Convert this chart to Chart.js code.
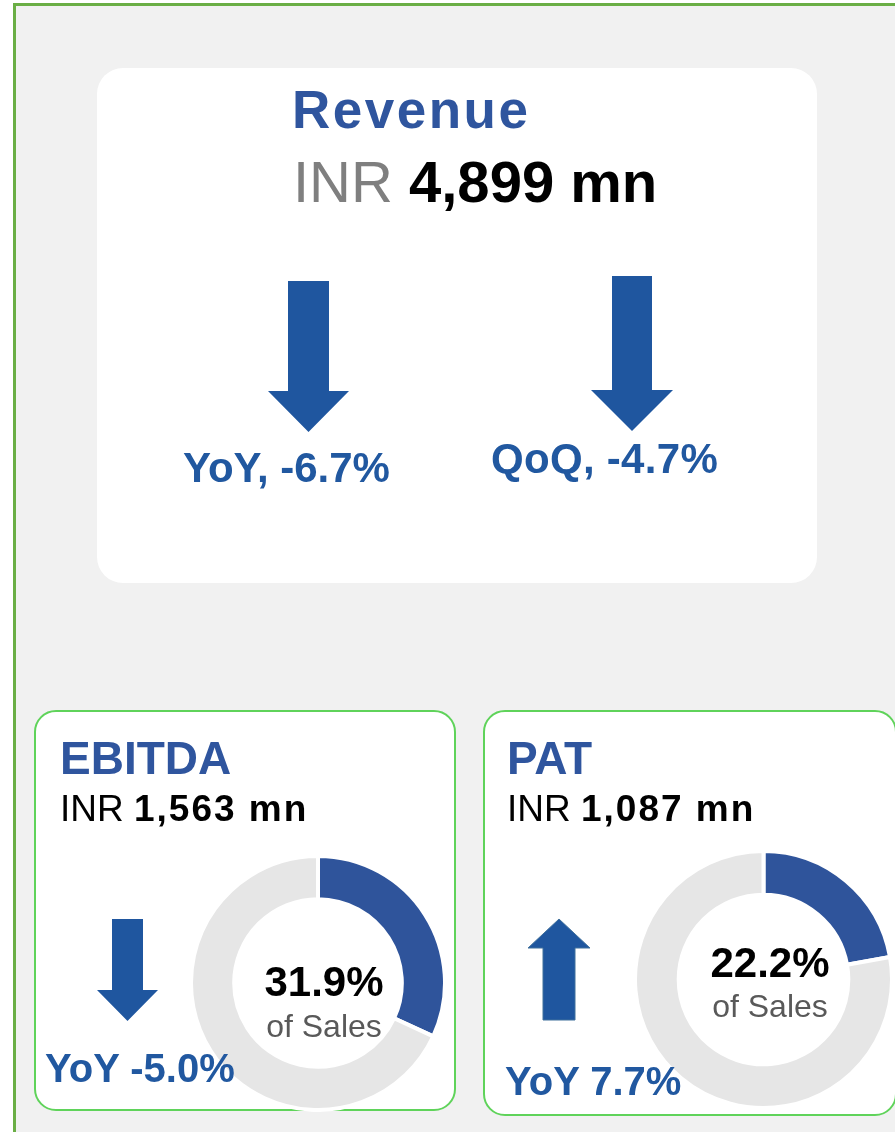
<!DOCTYPE html>
<html>
<head>
<meta charset="utf-8">
<script src="https://cdn.jsdelivr.net/npm/chart.js@4/dist/chart.umd.min.js"></script>
<style>
  body { margin: 0; width: 895px; height: 1132px; overflow: hidden; background: #fff; position: relative;
         font-family: "Liberation Sans", Arial, sans-serif; }
  .frame { position: absolute; left: 13px; top: 3px; width: 1000px; height: 1300px;
           border: 3px solid #6aae45; background: #f1f1f1; box-sizing: border-box; }
  .card { position: absolute; background: #fff; box-sizing: border-box; }
  .t { position: absolute; line-height: 1; white-space: nowrap; }
  .blue { color: #2f559e; font-weight: bold; }
  .chg { color: #2158a0; font-weight: bold; }
  .pct { font-weight: bold; color: #000; transform: translateX(-50%); }
  .sub { color: #595959; transform: translateX(-50%); }
  .ring { position: absolute; }
  svg.arrows { position: absolute; left: 0; top: 0; }
</style>
</head>
<body>
<div class="frame"></div>

<div class="card" style="left:97px;top:68px;width:720px;height:515px;border-radius:26px;"></div>
<div class="card" style="left:34px;top:710px;width:422px;height:401px;border-radius:22px;border:2px solid #5fd35a;"></div>
<div class="card" style="left:483px;top:710px;width:414px;height:406px;border-radius:22px;border:2px solid #5fd35a;"></div>

<div class="ring" style="left:189px;top:854px;width:258px;height:258px;"><canvas id="ebitdaChart"></canvas></div>
<div class="ring" style="left:633px;top:849px;width:261px;height:261px;"><canvas id="patChart"></canvas></div>

<svg class="arrows" width="895" height="1132">
  <polygon points="288,281 329,281 329,391 349,391 308.5,432 268,391 288,391" fill="#1f569f"/>
  <polygon points="612,276 652,276 652,390 673,390 632,431 591,390 612,390" fill="#1f569f"/>
  <polygon points="112,919 143,919 143,990 158,990 127.5,1021 97,990 112,990" fill="#1f569f"/>
  <polygon points="559,919 590,948 575,948 575,1020 543,1020 543,948 528,948" fill="#1f569f" stroke="#41719c" stroke-width="1"/>
</svg>

<div id="texts"></div>

<script>
// 売上
const revenueValue = '4,899';
const changeLabels = ['YoY', 'QoQ'];
const revenueChanges = [-6.7, -4.7];

// EBITDA / PAT
const kpiNames = ['EBITDA', 'PAT'];
const kpiValues = ['1,563', '1,087'];
const marginPct = [31.9, 22.2];
const kpiYoY = [-5.0, 7.7];

const ringColors = ['#2f549b', '#e6e6e6'];

function addText(html, cls, left, top, size, extra) {
    const el = document.createElement('div');
    el.className = 't ' + cls;
    el.style.left = left + 'px';
    el.style.top = top + 'px';
    el.style.fontSize = size + 'px';
    if (extra) el.style.cssText += extra;
    el.innerHTML = html;
    document.getElementById('texts').appendChild(el);
}

function fmt(v) {
    return (v < 0 ? '-' : '') + Math.abs(v).toFixed(1) + '%';
}

// 売上カード
addText('Revenue', 'blue', 292, 83, 53, 'letter-spacing:2.5px;');
addText('<span style="color:#7f7f7f">INR </span><b>' + revenueValue + ' mn</b>', '', 293, 153, 58);
addText(changeLabels[0] + ', ' + fmt(revenueChanges[0]), 'chg', 183, 447, 42);
addText(changeLabels[1] + ', ' + fmt(revenueChanges[1]), 'chg', 491, 438, 42, 'letter-spacing:0.3px;');

// KPIカード
const cardLeft = [60, 507];
const yoyPos = [[45, 1048], [505, 1061]];
const centerX = [324, 770];
const pctTop = [961, 942];
const subTop = [1010, 990];

kpiNames.forEach((name, i) => {
    addText(name, 'blue', cardLeft[i], 735, 46);
    addText('INR <b style="letter-spacing:2px">' + kpiValues[i] + ' mn</b>', '', cardLeft[i], 790, 37);
    addText(marginPct[i].toFixed(1) + '%', 'pct', centerX[i], pctTop[i], 42);
    addText('of Sales', 'sub', centerX[i], subTop[i], 32);
    addText('YoY ' + fmt(kpiYoY[i]), 'chg', yoyPos[i][0], yoyPos[i][1], 40);
});

// ドーナツチャート
['ebitdaChart', 'patChart'].forEach((id, i) => {
    new Chart(document.getElementById(id), {
        type: 'doughnut',
        data: {
            labels: ['Margin', 'Rest'],
            datasets: [{
                data: [marginPct[i], 100 - marginPct[i]],
                backgroundColor: ringColors,
                borderColor: '#ffffff',
                borderWidth: 4
            }]
        },
        options: {
            responsive: true,
            maintainAspectRatio: false,
            animation: false,
            events: [],
            cutout: '66%',
            rotation: 0,
            layout: { padding: 0 },
            plugins: {
                legend: { display: false },
                tooltip: { enabled: false }
            }
        }
    });
});
</script>
</body>
</html>
